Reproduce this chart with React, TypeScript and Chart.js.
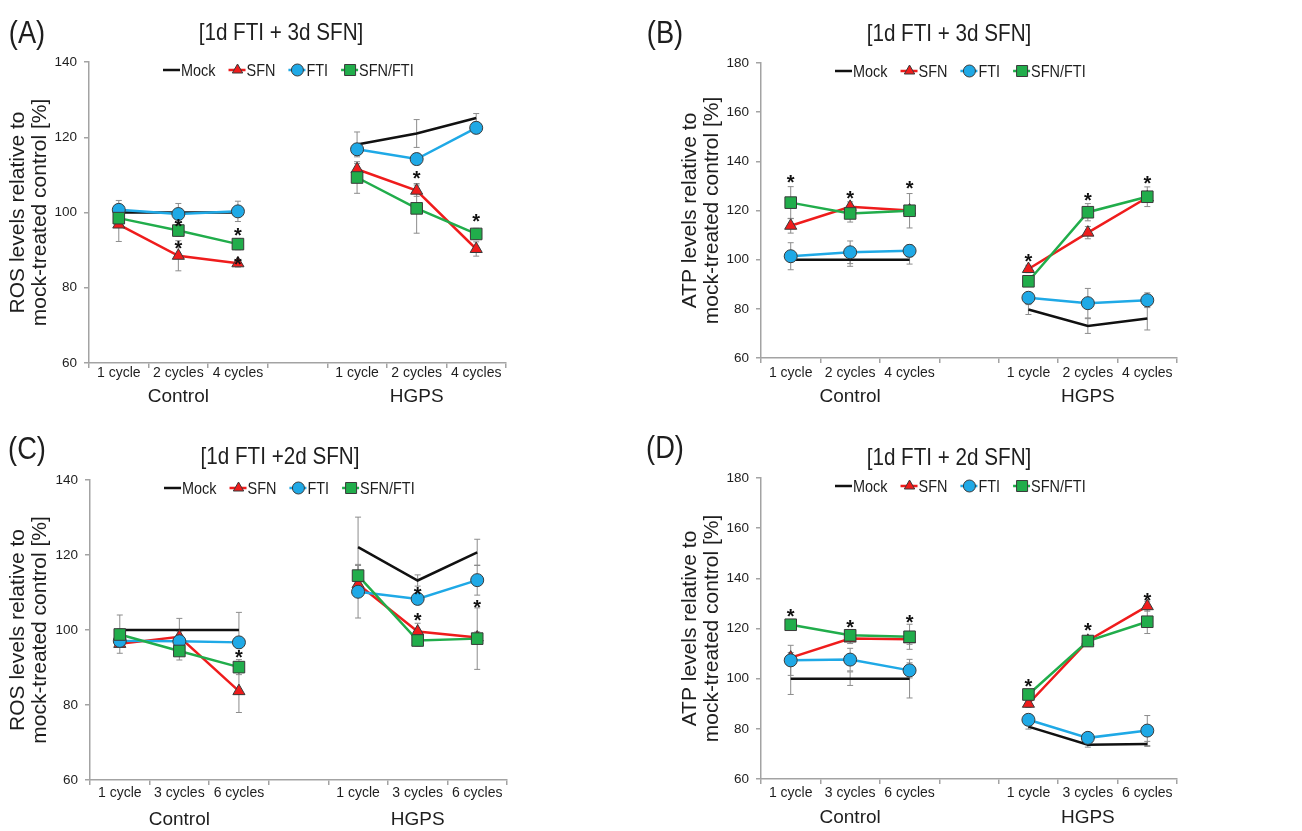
import React, { useEffect, useRef } from 'react';
import { Chart, registerables } from 'chart.js';
Chart.register(...registerables);

// ---------- DATA ----------
const xLabels124 = ['1 cycle', '2 cycles', '4 cycles', '', '1 cycle', '2 cycles', '4 cycles'];
const xLabels136 = ['1 cycle', '3 cycles', '6 cycles', '', '1 cycle', '3 cycles', '6 cycles'];
const groupLabels = ['', 'Control', '', '', '', 'HGPS', ''];
const seriesNames = ['Mock', 'SFN', 'FTI', 'SFN/FTI'];

// Panel A: ROS, 1d FTI + 3d SFN
const mockA = [100, 100, 100, null, 118.1, 121, 125.1];
const sfnA = [96.8, 88.5, 86.5, null, 111.5, 105.8, 90.3];
const ftiA = [100.7, 99.6, 100.3, null, 116.8, 114.2, 122.5];
const comboA = [98.5, 95.2, 91.6, null, 109.3, 101.1, 94.3];
const mockErrA = [0, 0, 0, null, 3.3, 3.7, 1.2];
const sfnErrA = [4.5, 4, 1, null, 1.5, 1.5, 1.9];
const ftiErrA = [2.5, 2.8, 2.7, null, 1.5, 1.5, 1.5];
const comboErrA = [1.5, 1.5, 1.5, null, 4.2, 6.6, 1.5];
const starsA = [[], [97.4, 91.6], [95, 87.5], [], [], [110.1], [98.8]];

// Panel B: ATP, 1d FTI + 3d SFN
const mockB = [100, 100, 100, null, 79.7, 73, 76.1];
const sfnB = [113.8, 121.5, 120, null, 96.2, 111, 125.3];
const ftiB = [101.4, 103, 103.6, null, 84.5, 82.3, 83.5];
const comboB = [123.2, 118.8, 119.9, null, 91.2, 119.3, 125.6];
const mockErrB = [0, 2.7, 1.8, null, 2, 3, 4.7];
const sfnErrB = [3, 2, 1.5, null, 1.5, 2.5, 2];
const ftiErrB = [5.5, 4.6, 2.5, null, 1.5, 6, 3];
const comboErrB = [6.5, 3.5, 7, null, 2, 3.5, 4];
const starsB = [[133.1], [126.6], [130.7], [], [101], [126], [132.8]];

// Panel C: ROS, 1d FTI + 2d SFN
const mockC = [100, 100, 100, null, 122.1, 113.2, 120.7];
const sfnC = [96.3, 98.2, 83.7, null, 112.2, 99.6, 98];
const ftiC = [97.1, 97, 96.7, null, 110.2, 108.3, 113.3];
const comboC = [98.8, 94.4, 90.1, null, 114.5, 97.2, 97.7];
const mockErrC = [4, 3.1, 4.7, null, 8, 1.5, 3.5];
const sfnErrC = [2.5, 1.5, 5.7, null, 2, 2.2, 1.5];
const ftiErrC = [1.5, 1.5, 1.5, null, 7, 1.5, 4];
const comboErrC = [1.5, 2.4, 2, null, 3, 1.5, 8.2];
const starsC = [[], [], [93.8], [], [], [110.7, 103.8], [107.3]];

// Panel D: ATP, 1d FTI + 2d SFN
const mockD = [100, 100, 100, null, 80.9, 73.7, 74];
const sfnD = [108.4, 116, 115.7, null, 90, 115.1, 128.9];
const ftiD = [107.3, 107.6, 103.3, null, 83.6, 76.4, 79.3];
const comboD = [121.5, 117.3, 116.7, null, 93.7, 115, 122.7];
const mockErrD = [6.3, 2.7, 7.7, null, 1, 1, 1];
const sfnErrD = [2, 2, 2, null, 1.5, 2, 2];
const ftiErrD = [6, 4.5, 3, null, 2, 1.5, 6];
const comboErrD = [2, 2, 5, null, 1.5, 2, 4.7];
const starsD = [[126.4], [122], [124], [], [98.7], [121], [133]];

// ---------- STYLE ----------
const SANS = "'Liberation Sans', Arial, sans-serif";
const TXT = '#1e1e1e';
const AXIS = '#a3a3a3';
const ERR = '#8c8c8c';
const COLORS = { mock: '#111111', sfn: '#ef1c1c', fti: '#1fa9e6', combo: '#21ad4b' };
const MARK_BORDER = '#3a3a3a';
const X2H = 25;
const CONDENSE = 0.85;

type Panel = {
  key: string; label: string; title: string; yTitle: string[]; labels: string[]; yMax: number;
  mock: (number | null)[]; sfn: (number | null)[]; fti: (number | null)[]; combo: (number | null)[];
  mockErr: (number | null)[]; sfnErr: (number | null)[]; ftiErr: (number | null)[]; comboErr: (number | null)[];
  stars: number[][];
  left: number; top: number; width: number; height: number;
  plotTop: number; plotBottom: number; plotRight: number; axisX: number;
  tickOff: number; groupOff: number;
  labelPos: [number, number]; titlePos: [number, number];
};

const rosTitle = ['ROS levels relative to', 'mock-treated control [%]'];
const atpTitle = ['ATP levels relative to', 'mock-treated control [%]'];

const panels: Panel[] = [
  {
    key: 'A', label: '(A)', title: '[1d FTI + 3d SFN]', yTitle: rosTitle, labels: xLabels124, yMax: 140,
    mock: mockA, sfn: sfnA, fti: ftiA, combo: comboA,
    mockErr: mockErrA, sfnErr: sfnErrA, ftiErr: ftiErrA, comboErr: comboErrA, stars: starsA,
    left: 0, top: 0, width: 650, height: 413, plotTop: 62, plotBottom: 363, plotRight: 506, axisX: 89,
    tickOff: 10, groupOff: 34, labelPos: [27, 32], titlePos: [281, 32],
  },
  {
    key: 'B', label: '(B)', title: '[1d FTI + 3d SFN]', yTitle: atpTitle, labels: xLabels124, yMax: 180,
    mock: mockB, sfn: sfnB, fti: ftiB, combo: comboB,
    mockErr: mockErrB, sfnErr: sfnErrB, ftiErr: ftiErrB, comboErr: comboErrB, stars: starsB,
    left: 672, top: 0, width: 630, height: 413, plotTop: 63, plotBottom: 358, plotRight: 1177, axisX: 761,
    tickOff: 15, groupOff: 39, labelPos: [665, 32], titlePos: [949, 33],
  },
  {
    key: 'C', label: '(C)', title: '[1d FTI +2d SFN]', yTitle: rosTitle, labels: xLabels136, yMax: 140,
    mock: mockC, sfn: sfnC, fti: ftiC, combo: comboC,
    mockErr: mockErrC, sfnErr: sfnErrC, ftiErr: ftiErrC, comboErr: comboErrC, stars: starsC,
    left: 0, top: 418, width: 650, height: 413, plotTop: 480, plotBottom: 780, plotRight: 507, axisX: 90,
    tickOff: 13, groupOff: 40, labelPos: [27, 448], titlePos: [280, 456],
  },
  {
    key: 'D', label: '(D)', title: '[1d FTI + 2d SFN]', yTitle: atpTitle, labels: xLabels136, yMax: 180,
    mock: mockD, sfn: sfnD, fti: ftiD, combo: comboD,
    mockErr: mockErrD, sfnErr: sfnErrD, ftiErr: ftiErrD, comboErr: comboErrD, stars: starsD,
    left: 672, top: 418, width: 630, height: 413, plotTop: 478, plotBottom: 779, plotRight: 1177, axisX: 761,
    tickOff: 14, groupOff: 39, labelPos: [665, 447], titlePos: [949, 457],
  },
];

// ---------- PLUGINS ----------
const errorBarPlugin = {
  id: 'errorBars',
  beforeDatasetsDraw(chart: any) {
    const ctx = chart.ctx;
    const xs = chart.scales.x;
    const ys = chart.scales.y;
    ctx.save();
    ctx.strokeStyle = ERR;
    ctx.lineWidth = 1;
    chart.data.datasets.forEach((ds: any) => {
      const errs = ds.errors || [];
      ds.data.forEach((v: number | null, i: number) => {
        const e = errs[i];
        if (v == null || !e) return;
        const x = xs.getPixelForValue(i);
        const y1 = ys.getPixelForValue(v + e);
        const y2 = ys.getPixelForValue(v - e);
        ctx.beginPath();
        ctx.moveTo(x, y1); ctx.lineTo(x, y2);
        ctx.moveTo(x - 3, y1); ctx.lineTo(x + 3, y1);
        ctx.moveTo(x - 3, y2); ctx.lineTo(x + 3, y2);
        ctx.stroke();
      });
    });
    ctx.restore();
  },
};

const starPlugin = {
  id: 'stars',
  afterDatasetsDraw(chart: any, _args: any, opts: any) {
    const ctx = chart.ctx;
    const xs = chart.scales.x;
    const ys = chart.scales.y;
    const stars: number[][] = opts.stars || [];
    ctx.save();
    ctx.fillStyle = '#111';
    ctx.font = `bold 20px ${SANS}`;
    ctx.textAlign = 'center';
    ctx.textBaseline = 'alphabetic';
    stars.forEach((list, i) => {
      list.forEach((v) => {
        const x = xs.getPixelForValue(i);
        const y = ys.getPixelForValue(v);
        ctx.fillText('*', x, y + 11);
      });
    });
    ctx.restore();
  },
};

function drawMarker(ctx: CanvasRenderingContext2D, kind: string, x: number, y: number, fill: string) {
  ctx.save();
  ctx.fillStyle = fill;
  ctx.strokeStyle = MARK_BORDER;
  ctx.lineWidth = 1;
  ctx.beginPath();
  if (kind === 'triangle') {
    const r = 6;
    ctx.moveTo(x, y - r);
    ctx.lineTo(x + r * 0.866, y + r * 0.5);
    ctx.lineTo(x - r * 0.866, y + r * 0.5);
    ctx.closePath();
  } else if (kind === 'circle') {
    ctx.arc(x, y, 6, 0, Math.PI * 2);
  } else if (kind === 'rect') {
    ctx.rect(x - 5.5, y - 5.5, 11, 11);
  }
  ctx.fill();
  ctx.stroke();
  ctx.restore();
}

const legendPlugin = {
  id: 'customLegend',
  afterDraw(chart: any) {
    const ctx = chart.ctx;
    const area = chart.chartArea;
    let x = area.left + 74;
    const y = area.top + 8;
    ctx.save();
    ctx.font = `17px ${SANS}`;
    ctx.textBaseline = 'middle';
    ctx.textAlign = 'left';
    chart.data.datasets.forEach((ds: any) => {
      ctx.strokeStyle = ds.borderColor;
      ctx.lineWidth = 2.5;
      ctx.beginPath();
      ctx.moveTo(x, y);
      ctx.lineTo(x + 17, y);
      ctx.stroke();
      if (ds.legendMarker) drawMarker(ctx, ds.legendMarker, x + 9, y, ds.pointBackgroundColor);
      ctx.fillStyle = TXT;
      const tx = x + 18;
      ctx.save();
      ctx.translate(tx, y + 1);
      ctx.scale(CONDENSE, 1);
      ctx.fillText(ds.label, 0, 0);
      ctx.restore();
      x = tx + ctx.measureText(ds.label).width * CONDENSE + 13;
    });
    ctx.restore();
  },
};

// ---------- COMPONENTS ----------
function ChartPanel({ p }: { p: Panel }) {
  const ref = useRef<HTMLCanvasElement>(null);
  useEffect(() => {
    const canvas = ref.current;
    if (!canvas) return;
    const XH = p.tickOff + 10;
    const padTop = p.plotTop - p.top;
    const padRight = p.width - (p.plotRight - p.left);
    const padBottom = p.height - (p.plotBottom - p.top) - XH - X2H;
    const chart = new Chart(canvas, {
      type: 'line',
      data: {
        labels: p.labels,
        datasets: [
          {
            label: seriesNames[0], data: p.mock, errors: p.mockErr, order: 3,
            borderColor: COLORS.mock, backgroundColor: COLORS.mock, borderWidth: 2.5,
            pointRadius: 0, pointHoverRadius: 0, legendMarker: null,
          },
          {
            label: seriesNames[1], data: p.sfn, errors: p.sfnErr, order: 2,
            borderColor: COLORS.sfn, backgroundColor: COLORS.sfn, borderWidth: 2.5,
            pointStyle: 'triangle', pointRadius: 7, pointBackgroundColor: COLORS.sfn,
            pointBorderColor: MARK_BORDER, pointBorderWidth: 1, legendMarker: 'triangle',
          },
          {
            label: seriesNames[2], data: p.fti, errors: p.ftiErr, order: 1,
            borderColor: COLORS.fti, backgroundColor: COLORS.fti, borderWidth: 2.5,
            pointStyle: 'circle', pointRadius: 6.5, pointBackgroundColor: COLORS.fti,
            pointBorderColor: MARK_BORDER, pointBorderWidth: 1, legendMarker: 'circle',
          },
          {
            label: seriesNames[3], data: p.combo, errors: p.comboErr, order: 0,
            borderColor: COLORS.combo, backgroundColor: COLORS.combo, borderWidth: 2.5,
            pointStyle: 'rect', pointRadius: 8.2, pointBackgroundColor: COLORS.combo,
            pointBorderColor: MARK_BORDER, pointBorderWidth: 1, legendMarker: 'rect',
          },
        ] as any,
      },
      options: {
        responsive: false,
        maintainAspectRatio: false,
        animation: false,
        events: [],
        layout: { padding: { left: 0, top: padTop, right: padRight, bottom: padBottom } },
        plugins: {
          legend: { display: false },
          tooltip: { enabled: false },
          title: { display: false },
          stars: { stars: p.stars },
        } as any,
        scales: {
          x: {
            type: 'category', offset: true, position: 'bottom', weight: 0,
            grid: { offset: true, drawOnChartArea: false, drawTicks: true, tickLength: 5, color: AXIS, lineWidth: 1.5 },
            border: { color: AXIS, width: 1.5 },
            ticks: {
              autoSkip: false, maxRotation: 0, minRotation: 0, padding: p.tickOff - 13.4, color: TXT,
              font: { family: SANS, size: 14, lineHeight: 1.2 },
            },
            afterFit: (s: any) => { s.height = XH; },
          },
          x2: {
            type: 'category', labels: groupLabels, offset: true, position: 'bottom', weight: 1,
            grid: { display: false, drawTicks: false },
            border: { display: false },
            ticks: {
              autoSkip: false, maxRotation: 0, minRotation: 0, padding: p.groupOff - XH - 11.4, color: TXT,
              font: { family: SANS, size: 19, lineHeight: 1.2 },
            },
            afterFit: (s: any) => { s.height = X2H; },
          },
          y: {
            min: 60, max: p.yMax,
            grid: { drawOnChartArea: false, drawTicks: true, tickLength: 5, color: AXIS, lineWidth: 1.5 },
            border: { color: AXIS, width: 1.5 },
            ticks: { stepSize: 20, padding: 7, color: TXT, font: { family: SANS, size: 13.5 } },
            title: {
              display: true, text: p.yTitle, color: TXT,
              font: { family: SANS, size: 21, lineHeight: 1.05 },
              padding: { top: 7, bottom: 0 },
            },
            afterFit: (s: any) => { s.width = p.axisX - p.left; },
          },
        } as any,
      },
      plugins: [errorBarPlugin, starPlugin, legendPlugin],
    } as any);
    return () => chart.destroy();
  }, [p]);
  return (
    <canvas
      ref={ref}
      width={p.width}
      height={p.height}
      style={{ position: 'absolute', left: p.left, top: p.top, width: p.width, height: p.height }}
    />
  );
}

export default function App() {
  return (
    <div style={{ position: 'absolute', left: 0, top: 0, width: 1302, height: 831, background: '#fff', overflow: 'hidden' }}>
      {panels.map((p) => (
        <React.Fragment key={p.key}>
          <ChartPanel p={p} />
          <div
            style={{
              position: 'absolute', left: p.labelPos[0], top: p.labelPos[1],
              transform: 'translate(-50%, -50%) scaleX(0.88)',
              fontFamily: SANS, fontSize: 31, color: TXT, whiteSpace: 'nowrap', lineHeight: 1,
            }}
          >
            {p.label}
          </div>
          <div
            style={{
              position: 'absolute', left: p.titlePos[0], top: p.titlePos[1],
              transform: 'translate(-50%, -50%) scaleX(0.86)',
              fontFamily: SANS, fontSize: 24, color: TXT, whiteSpace: 'nowrap', lineHeight: 1,
            }}
          >
            {p.title}
          </div>
        </React.Fragment>
      ))}
    </div>
  );
}
